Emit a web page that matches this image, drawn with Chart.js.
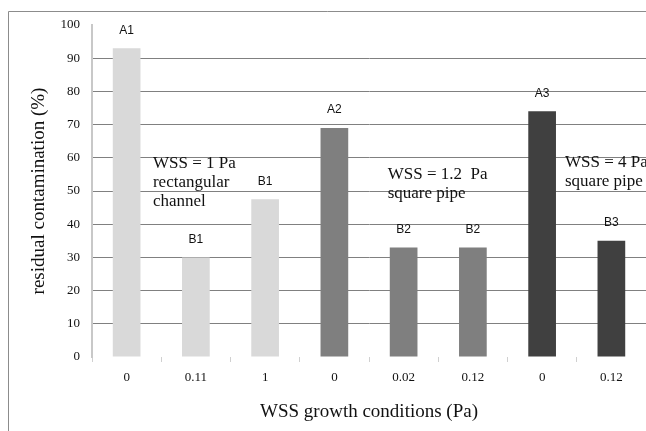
<!DOCTYPE html>
<html>
<head>
<meta charset="utf-8">
<script src="https://cdn.jsdelivr.net/npm/chart.js@4"></script>
<style>
  html, body { margin: 0; padding: 0; background: #fff; }
  #wrap { width: 646px; height: 431px; position: relative; }
</style>
</head>
<body>
<div id="wrap"><canvas id="chart"></canvas></div>
<script>
// data
var categories = ["0", "0.11", "1", "0", "0.02", "0.12", "0", "0.12"];
var residual = [93, 30, 47.5, 69, 33, 33, 74, 35];
var barNames = ["A1", "B1", "B1", "A2", "B2", "B2", "A3", "B3"];
var barColors = ["#d9d9d9", "#d9d9d9", "#d9d9d9", "#7f7f7f", "#7f7f7f", "#7f7f7f", "#404040", "#404040"];
var yTicks = [0, 10, 20, 30, 40, 50, 60, 70, 80, 90, 100];

// group notes, anchored in category index / value space
var notes = [
  { at: 0.38, value: 58.4, lines: ["WSS = 1 Pa", "rectangular", "channel"] },
  { at: 3.77, value: 55.1, lines: ["WSS = 1.2  Pa", "square pipe"] },
  { at: 6.33, value: 58.7, lines: ["WSS = 4 Pa", "square pipe"] }
];

const serif = "'Liberation Serif', 'Times New Roman', serif";

const ctx = document.getElementById("chart");

var myChart = new Chart(ctx, {
  type: "bar",
  data: {
    labels: categories,
    datasets: [
      {
        data: residual,
        backgroundColor: barColors,
        barPercentage: 0.8,
        categoryPercentage: 0.5,
      },
    ],
  },
  options: {
    responsive: true,
    maintainAspectRatio: false,
    animation: false,
    events: [],
    layout: { padding: { top: 25, left: 0, right: 0, bottom: 0 } },
    plugins: {
      legend: { display: false },
      tooltip: { enabled: false },
    },
    scales: {
      x: {
        afterFit: function (scale) {
          scale.height = 74;
        },
        border: { display: false },
        grid: {
          drawOnChartArea: false,
          drawTicks: true,
          tickLength: 5,
          color: "#d0d0d0",
        },
        ticks: {
          color: "#111",
          padding: 8,
          font: { family: serif, size: 13 },
        },
        title: {
          display: true,
          text: "WSS growth conditions (Pa)",
          color: "#111",
          font: { family: serif, size: 19 },
          padding: { top: 10, bottom: 8 },
        },
      },
      y: {
        min: 0,
        max: 100,
        afterFit: function (scale) {
          scale.width = 92;
        },
        afterBuildTicks: function (scale) {
          scale.ticks = yTicks.map(function (v) {
            return { value: v };
          });
        },
        border: { display: true, color: "#c8c8c8", width: 2 },
        grid: {
          drawTicks: false,
          color: function (c) {
            var v = c.tick ? c.tick.value : 0;
            return v === 0 || v === 100 ? "rgba(0,0,0,0)" : "#808080";
          },
          lineWidth: 1,
        },
        ticks: {
          color: "#111",
          padding: 12,
          font: { family: serif, size: 13 },
        },
        title: {
          display: true,
          text: "residual contamination (%)",
          color: "#111",
          font: { family: serif, size: 19 },
          padding: { top: 28, bottom: 0 },
        },
      },
    },
  },
  plugins: [
    {
      id: "frame",
      beforeDraw: (chart) => {
        const c = chart.ctx;
        c.save();
        c.fillStyle = "#fff";
        c.fillRect(0, 0, chart.width, chart.height);
        c.strokeStyle = "#8c8c8c";
        c.lineWidth = 1;
        c.beginPath();
        c.moveTo(8.5, chart.height);
        c.lineTo(8.5, 11.5);
        c.lineTo(chart.width, 11.5);
        c.stroke();
        c.restore();
      },
    },
    {
      id: "barNames",
      afterDatasetsDraw: (chart) => {
        const c = chart.ctx;
        const meta = chart.getDatasetMeta(0);
        c.save();
        c.fillStyle = "#111";
        c.font = "12px 'Liberation Sans', Arial, sans-serif";
        c.textAlign = "center";
        c.textBaseline = "bottom";
        meta.data.forEach(function (bar, i) {
          c.fillText(barNames[i], bar.x, bar.y - 12);
        });
        c.restore();
      },
    },
    {
      id: "notes",
      afterDatasetsDraw: (chart) => {
        const c = chart.ctx;
        const xs = chart.scales.x;
        const ys = chart.scales.y;
        c.save();
        c.fillStyle = "#111";
        c.font = "17px " + serif;
        c.textAlign = "left";
        c.textBaseline = "middle";
        notes.forEach(function (n) {
          const x = xs.getPixelForDecimal((n.at + 0.5) / categories.length);
          const y = ys.getPixelForValue(n.value);
          n.lines.forEach(function (t, k) {
            c.fillText(t, x, y + k * 19);
          });
        });
        c.restore();
      },
    },
  ],
});
</script>
</body>
</html>
